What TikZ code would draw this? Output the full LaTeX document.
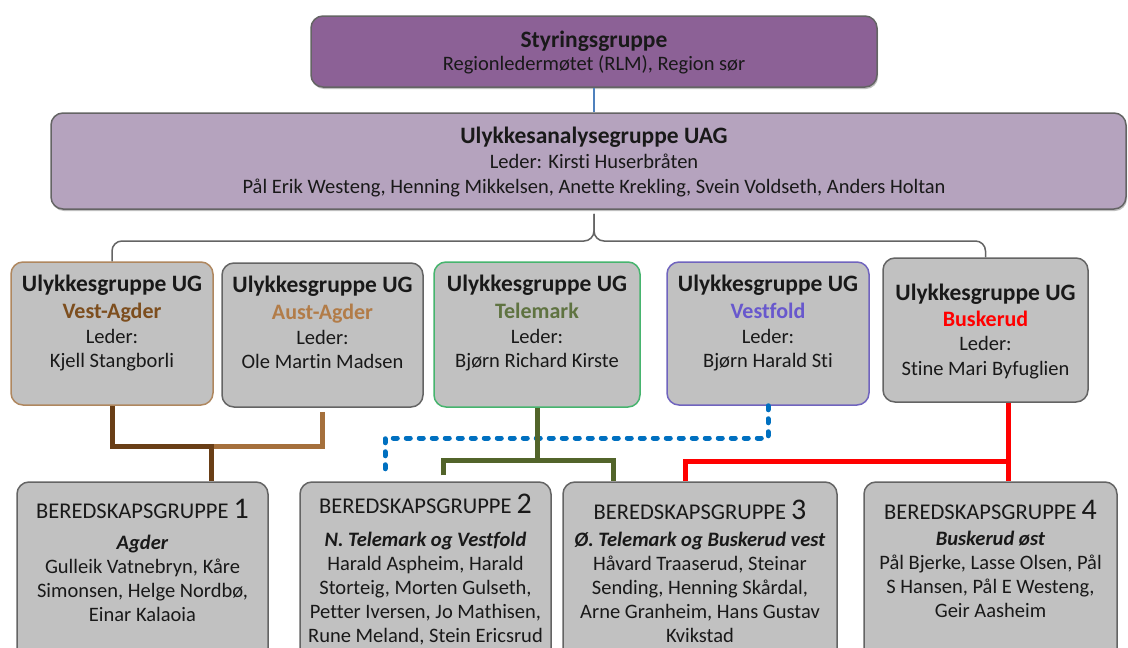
\documentclass[tikz,border=0pt]{standalone}
\usepackage{fontspec}
\setmainfont{Carlito}[Ligatures={NoCommon}]
\usetikzlibrary{shadows}
\definecolor{styr}{RGB}{140,97,150}
\definecolor{uagc}{RGB}{181,163,190}
\definecolor{boxg}{RGB}{193,193,193}
\definecolor{edge}{RGB}{100,100,100}
\definecolor{vabrd}{RGB}{175,135,95}
\definecolor{vatxt}{RGB}{125,78,30}
\definecolor{aatxt}{RGB}{178,124,72}
\definecolor{tmbrd}{RGB}{70,180,110}
\definecolor{tmtxt}{RGB}{95,115,65}
\definecolor{vfbrd}{RGB}{112,100,190}
\definecolor{vftxt}{RGB}{104,88,205}
\definecolor{dbrown}{RGB}{105,62,22}
\definecolor{lbrown}{RGB}{165,112,60}
\definecolor{olivec}{RGB}{82,100,42}
\definecolor{dblue}{RGB}{0,112,192}
\definecolor{topline}{RGB}{79,129,189}
\definecolor{txt}{RGB}{25,25,25}
\tikzset{
  card/.style={draw=edge, line width=1.5pt, rounded corners=12pt, fill=boxg, inner sep=0pt},
  topcard/.style={card, drop shadow={shadow xshift=1pt, shadow yshift=-2pt, opacity=.5}},
  body/.style={align=center, inner sep=0pt, text=txt, anchor=north, font=\fontsize{20.5}{25}\selectfont},
  ugbody/.style={body, font=\fontsize{20.5}{24.5}\selectfont},
  bgbody/.style={body, font=\fontsize{20.5}{24}\selectfont},
  bracel/.style={draw=edge, line width=1.5pt, rounded corners=10pt},
  thick5/.style={line width=5pt},
  bdark/.style={thick5, draw=dbrown},
  blight/.style={thick5, draw=lbrown},
  oliveline/.style={thick5, draw=olivec},
  redline/.style={thick5, draw=red},
  bluedash/.style={thick5, draw=dblue, dash pattern=on 4pt off 9pt, line cap=round},
}
\newcommand{\bgtitle}[1]{{\fontsize{22.5}{24}\selectfont BEREDSKAPSGRUPPE\ \fontsize{30}{24}\selectfont #1}}
\newcommand{\bigttl}[1]{{\bfseries\fontsize{23.5}{25}\selectfont #1}}
\newcommand{\ugtitle}{\bigttl{Ulykkesgruppe UG}}
\newcommand{\ugregion}[2]{\textcolor{#1}{\bfseries\fontsize{22}{25}\selectfont #2}}
\newcommand{\sub}[1]{\textbf{\itshape #1}}
\begin{document}
\begin{tikzpicture}[x=1pt,y=-1pt]
\clip (0,0) rectangle (1128,648);
\fill[white] (0,0) rectangle (1128,648);

% top boxes
\node[topcard, fill=styr, minimum width=566pt, minimum height=71pt] (sty) at (594,51.5) {};
\node[body] (stytxt) at (594,30.6) {\bigttl{Styringsgruppe}\\[-2pt]Regionledermøtet (RLM), Region sør};
\node[topcard, fill=uagc, minimum width=1075pt, minimum height=96pt] (uag) at (588.5,161) {};
\node[body] (uagtxt) at (594,126.5) {\bigttl{Ulykkesanalysegruppe UAG}\\Leder: Kirsti Huserbråten\\Pål Erik Westeng, Henning Mikkelsen, Anette Krekling, Svein Voldseth, Anders Holtan};

% UG boxes
\node[card, draw=vabrd, minimum width=202pt, minimum height=143pt] (ug1) at (112,333.5) {};
\node[card, minimum width=201pt, minimum height=144pt] (ug2) at (322.5,335) {};
\node[card, draw=tmbrd, minimum width=206pt, minimum height=145pt] (ug3) at (537,334.5) {};
\node[card, draw=vfbrd, minimum width=202pt, minimum height=143pt] (ug4) at (768,333.5) {};
\node[card, minimum width=205pt, minimum height=144pt] (ug5) at (985.5,330) {};

\node[ugbody] (ug1t) at (112,275) {\ugtitle\\[2.5pt]\ugregion{vatxt}{Vest-Agder}\\Leder:\\Kjell Stangborli};
\node[ugbody] (ug2t) at (322.5,276) {\ugtitle\\[2.5pt]\ugregion{aatxt}{Aust-Agder}\\Leder:\\Ole Martin Madsen};
\node[ugbody] (ug3t) at (537,275) {\ugtitle\\[2.5pt]\ugregion{tmtxt}{Telemark}\\Leder:\\Bjørn Richard Kirste};
\node[ugbody] (ug4t) at (768,275) {\ugtitle\\[2.5pt]\ugregion{vftxt}{Vestfold}\\Leder:\\Bjørn Harald Sti};
\node[ugbody] (ug5t) at (985.5,284) {\ugtitle\\[1pt]\ugregion{red}{Buskerud}\\Leder:\\Stine Mari Byfuglien};

% bottom boxes
\node[card, minimum width=251pt, minimum height=190pt] (bg1) at (142.5,577) {};
\node[card, minimum width=251pt, minimum height=190pt] (bg2) at (425.5,577) {};
\node[card, minimum width=274pt, minimum height=190pt] (bg3) at (700,577) {};
\node[card, minimum width=253pt, minimum height=190pt] (bg4) at (990.5,577) {};

\node[bgbody] (bg1t) at (142.5,499) {\bgtitle{1}\\[7pt]\sub{Agder}\\Gulleik Vatnebryn, Kåre\\Simonsen, Helge Nordbø,\\Einar Kalaoia};
\node[bgbody] (bg2t) at (425.5,494) {\bgtitle{2}\\[9pt]\sub{N. Telemark og Vestfold}\\Harald Aspheim, Harald\\Storteig, Morten Gulseth,\\Petter Iversen, Jo Mathisen,\\Rune Meland, Stein Ericsrud};
\node[bgbody] (bg3t) at (700,500) {\bgtitle{3}\\[2.5pt]\sub{Ø. Telemark og Buskerud vest}\\Håvard Traaserud, Steinar\\Sending, Henning Skårdal,\\Arne Granheim, Hans Gustav\\Kvikstad};
\node[bgbody] (bg4t) at (990.5,500) {\bgtitle{4}\\[2.5pt]\sub{Buskerud øst}\\Pål Bjerke, Lasse Olsen, Pål\\S Hansen, Pål E Westeng,\\Geir Aasheim};

% connectors
\draw[draw=topline, line width=1.2pt] (sty.south) -- (sty.south |- uag.north);
\coordinate (bs) at ([yshift=-4pt]sty.south |- uag.south);
\coordinate (bc) at (sty.south |- 0,241);
\draw[bracel] (bs) -- (bc) -| (ug1.north);
\draw[bracel] (bs) -- (bc) -| (ug5.north);

% brown
\coordinate (b1top) at ([xshift=68.5pt]bg1.north);
\coordinate (bj) at (b1top |- 0,446);
\draw[blight] ([yshift=-4pt]ug2.south) |- (bj);
\draw[bdark] (ug1.south) |- (bj) -- (b1top);

% blue dashed
\coordinate (blend) at (385,470);
\draw[bluedash] (ug4.south) -- (ug4.south |- 0,438) -| (blend);

% olive
\coordinate (gj) at (ug3.south |- 0,460);
\draw[oliveline] (ug3.south) -- (gj);
\draw[oliveline] ([xshift=17.5pt,yshift=6pt]bg2.north) |- (gj) -| ([xshift=-87pt]bg3.north);

% red
\coordinate (r5) at ([xshift=22.5pt]ug5.south);
\draw[redline] (r5) -- ([xshift=17.5pt]bg4.north);
\draw[redline] (r5 |- 0,461) -| ([xshift=-15pt]bg3.north);
\end{tikzpicture}
\end{document}
